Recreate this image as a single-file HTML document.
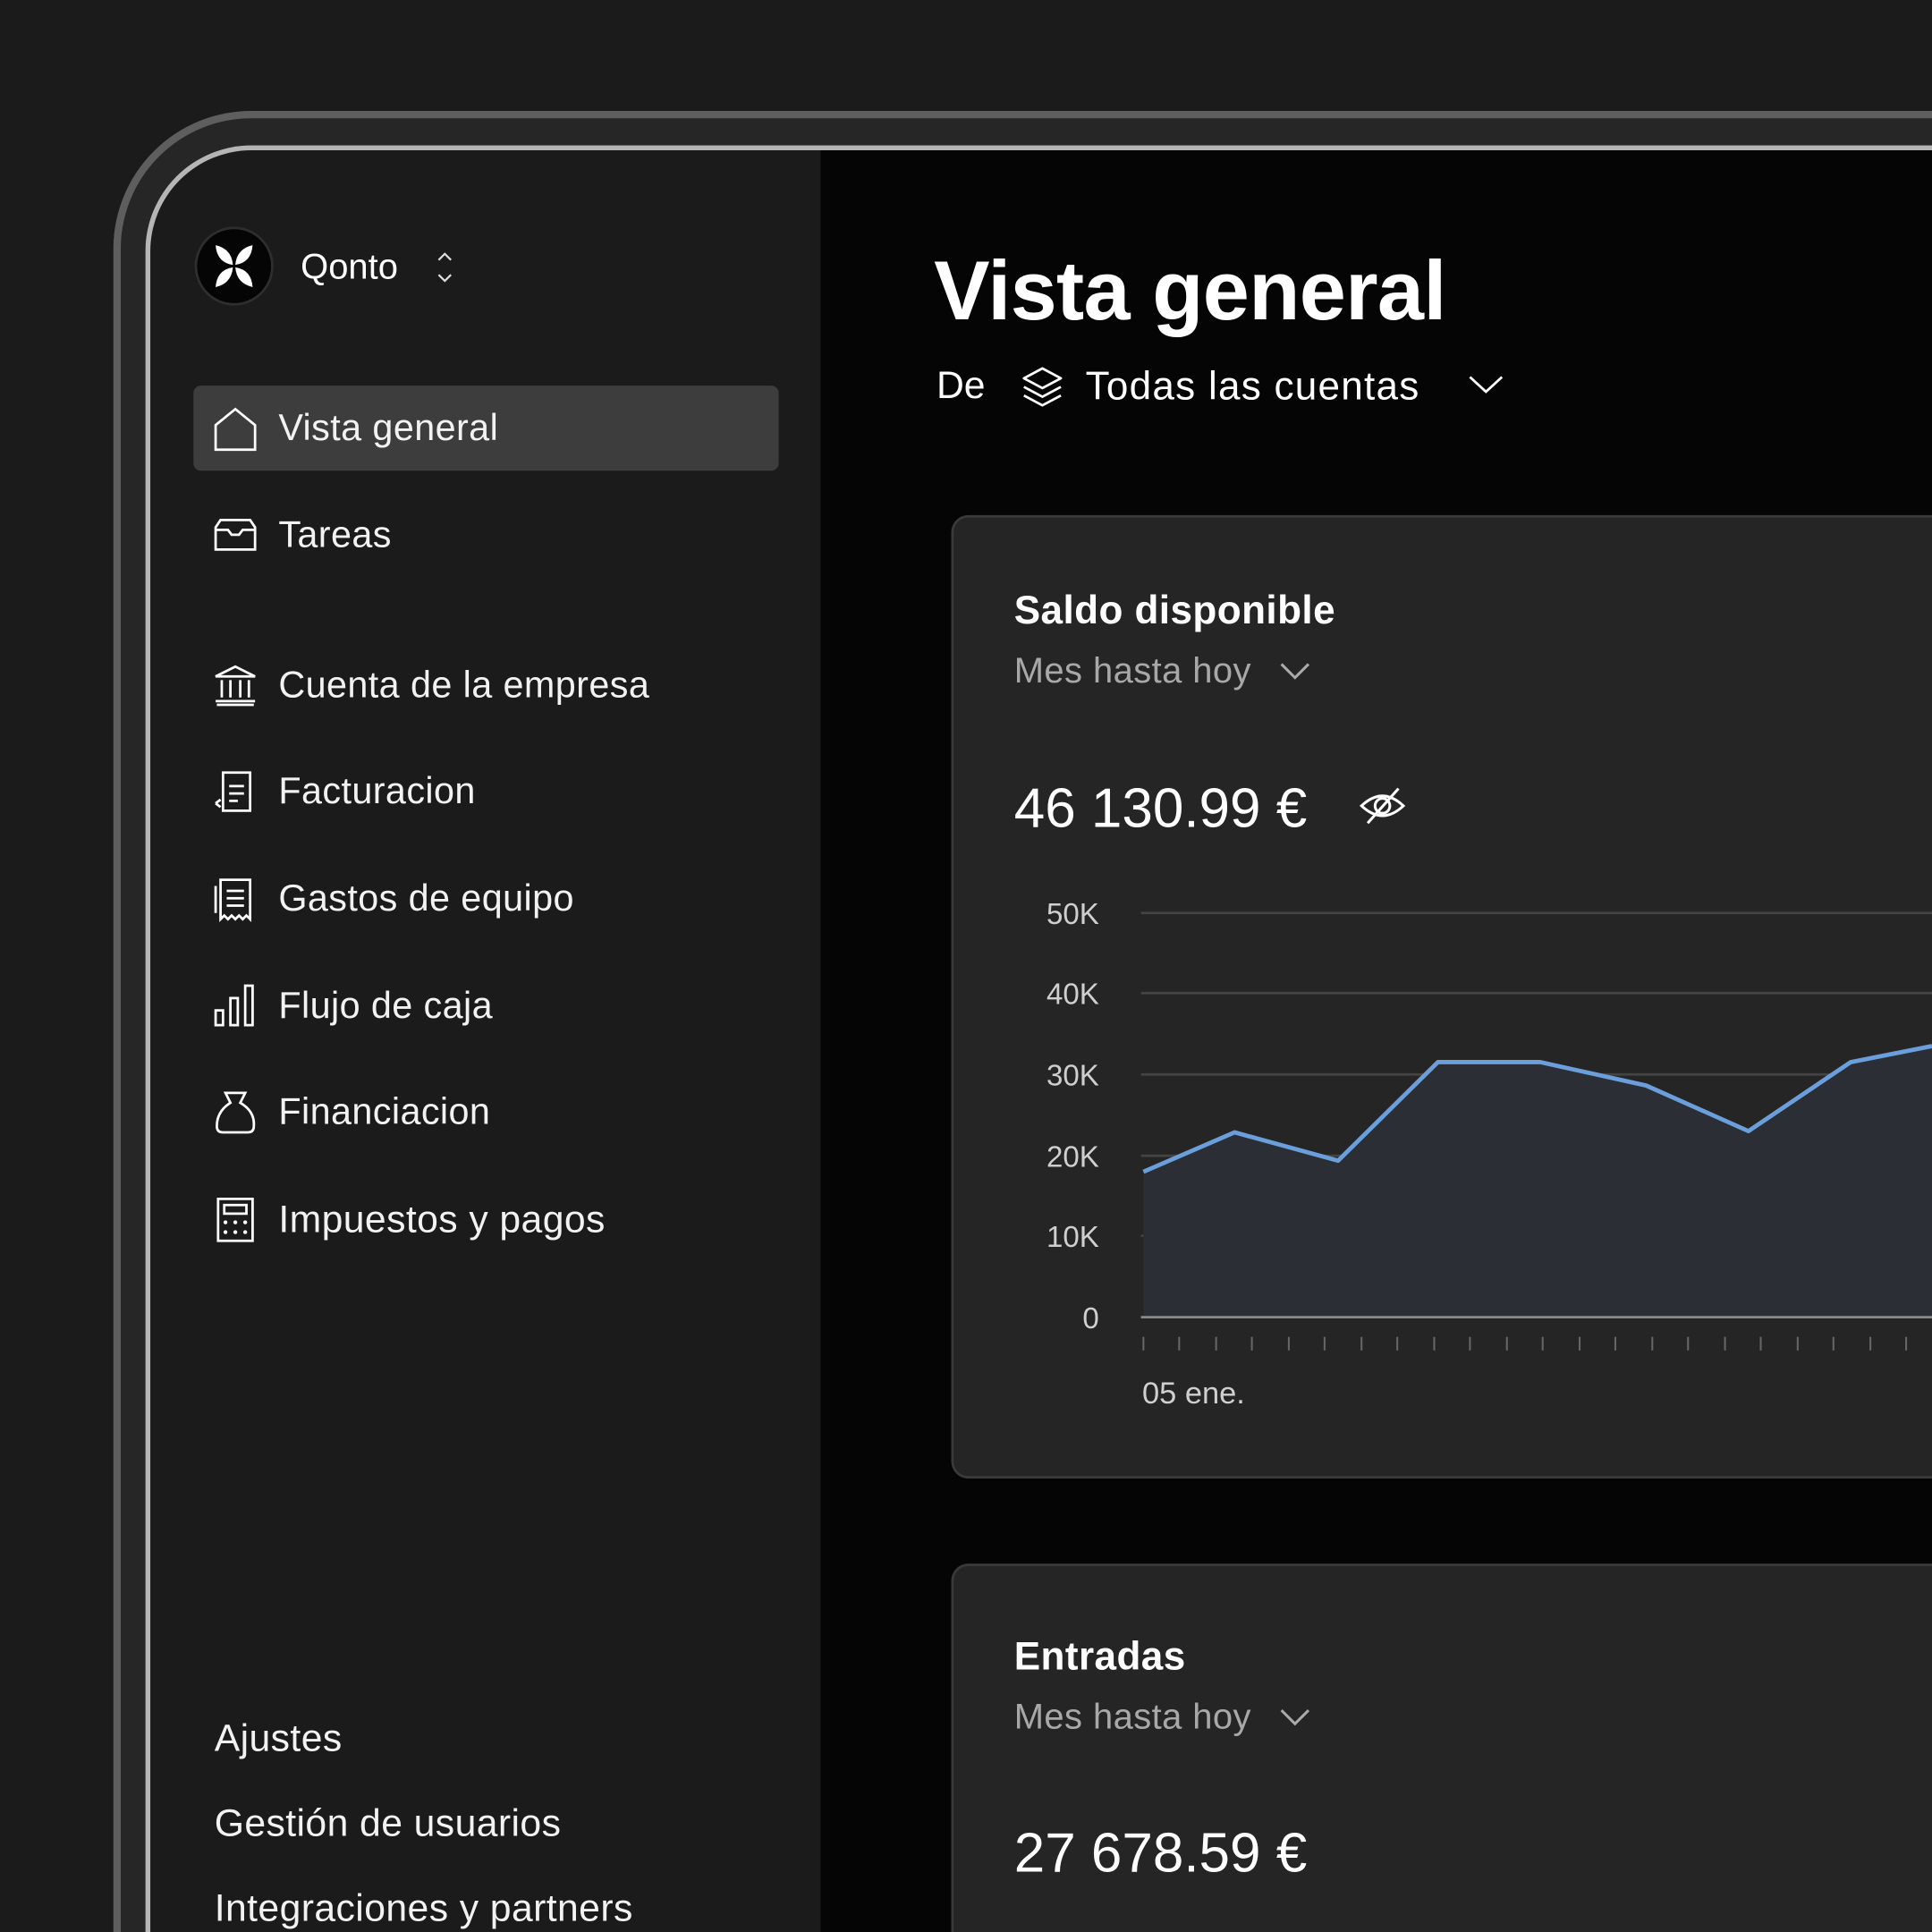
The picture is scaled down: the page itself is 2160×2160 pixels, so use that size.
<!DOCTYPE html>
<html><head><meta charset="utf-8"><style>
html,body{margin:0;padding:0;background:#1b1b1b;overflow:hidden;width:2160px;height:2160px}
#w{position:absolute;left:0;top:0;width:1568px;height:1568px;transform:scale(1.377551);transform-origin:0 0;font-family:"Liberation Sans",sans-serif;color:#fff;overflow:hidden}
.a{position:absolute}
.nav{position:absolute;left:226px;font-size:30px;color:#f2f2f2;letter-spacing:0.3px}
.ic{position:absolute;left:173px}
</style></head><body><div id="w">
<div class="a" style="left:92px;top:90px;width:2000px;height:2000px;border:6px solid #5e5e5e;border-radius:112px;background:#262626;box-sizing:border-box"></div>
<div class="a" style="left:118px;top:118px;width:1600px;height:1600px;border:4px solid #b5b5b5;border-right:none;border-bottom:none;border-radius:86px 0 0 0;background:#1b1b1b;box-sizing:border-box;overflow:hidden">
 <div class="a" style="left:544px;top:0;width:1100px;height:1600px;background:#050505"></div>
</div>
<div class="a" style="left:158px;top:184px;width:64px;height:64px;border-radius:50%;background:#050505;border:2px solid #2e2e2e;box-sizing:border-box"></div>
<svg class="a" style="left:170px;top:196px" width="40" height="40" viewBox="0 0 40 40"><g fill="#fff"><path d="M5 3 Q18 6 19 19 Q6 17 5 3Z"/><path d="M35 3 Q22 6 21 19 Q34 17 35 3Z"/><path d="M5 37 Q18 34 19 21 Q6 23 5 37Z"/><path d="M35 37 Q22 34 21 21 Q34 23 35 37Z"/></g></svg>
<div class="a" style="left:244px;top:201px;font-size:29px">Qonto</div>
<svg class="a" style="left:352px;top:202px" width="18" height="30"><path d="M4 9 L9 4 L14 9 M4 21 L9 26 L14 21" stroke="#ddd" stroke-width="1.6" fill="none"/></svg>
<div class="a" style="left:157px;top:313px;width:475px;height:69px;background:#3d3d3d;border-radius:6px"></div>
<svg class="ic" style="top:330px" width="38" height="38"><path d="M2 35 V15 L18 2 L34 15 V35 Z" stroke="#fff" stroke-width="2" fill="none"/></svg>
<div class="nav" style="top:331px">Vista general</div>
<svg class="ic" style="top:420px" width="38" height="30"><path d="M2 8 L6 2 H30 L34 8 V26 H2 Z M2 10 H12 L15 14 H21 L24 10 H34" stroke="#fff" stroke-width="2" fill="none"/></svg>
<div class="nav" style="top:418px">Tareas</div>
<svg class="ic" style="top:538px" width="38" height="38"><path d="M2 11 L18 3 L34 11 Z M3 34 H33 M2 31 H34 M7 14 V28 M14 14 V28 M22 14 V28 M29 14 V28" stroke="#fff" stroke-width="2" fill="none"/></svg>
<div class="nav" style="top:540px">Cuenta de la empresa</div>
<svg class="ic" style="top:624px" width="38" height="38"><path d="M8 3 H30 V34 H8 Z M13 14 H25 M13 20 H25 M13 26 H20 M2 28 L6 25 M2 28 L6 31" stroke="#fff" stroke-width="2" fill="none"/></svg>
<div class="nav" style="top:626px">Facturacion</div>
<svg class="ic" style="top:711px" width="38" height="38"><path d="M6 3 H30 V35 L27 32 L24 35 L21 32 L18 35 L15 32 L12 35 L9 32 L6 35 Z M11 12 H25 M11 18 H25 M11 24 H25 M2 8 V30" stroke="#fff" stroke-width="2" fill="none"/></svg>
<div class="nav" style="top:713px">Gastos de equipo</div>
<svg class="ic" style="top:798px" width="38" height="38"><path d="M2 22 H8 V34 H2 Z M14 12 H20 V34 H14 Z M26 2 H32 V34 H26 Z" stroke="#fff" stroke-width="2" fill="none"/></svg>
<div class="nav" style="top:800px">Flujo de caja</div>
<svg class="ic" style="top:884px" width="38" height="38"><path d="M10 3 H26 L22 11 Q34 18 33 30 Q33 35 28 35 H8 Q3 35 3 30 Q3 18 14 11 Z" stroke="#fff" stroke-width="2" fill="none"/></svg>
<div class="nav" style="top:886px">Financiacion</div>
<svg class="ic" style="top:971px" width="38" height="38"><path d="M4 2 H32 V36 H4 Z M9 7 H27 V14 H9 Z" stroke="#fff" stroke-width="2" fill="none"/><g fill="#fff"><circle cx="10" cy="21" r="1.6"/><circle cx="18" cy="21" r="1.6"/><circle cx="26" cy="21" r="1.6"/><circle cx="10" cy="29" r="1.6"/><circle cx="18" cy="29" r="1.6"/><circle cx="26" cy="29" r="1.6"/></g></svg>
<div class="nav" style="top:972px;font-size:31px">Impuestos y pagos</div>
<div class="nav" style="left:174px;top:1393px;font-size:31px">Ajustes</div>
<div class="nav" style="left:174px;top:1462px;font-size:31px">Gestión de usuarios</div>
<div class="nav" style="left:174px;top:1531px;font-size:31px">Integraciones y partners</div>
<div class="a" style="left:758px;top:197px;font-size:68px;font-weight:bold;letter-spacing:-0.5px">Vista general</div>
<div class="a" style="left:760px;top:295px;font-size:31px">De</div>
<svg class="a" style="left:828px;top:296px" width="36" height="36"><path d="M18 3 L33 11 L18 19 L3 11 Z M3 18 L18 26 L33 18 M3 25 L18 33 L33 25" stroke="#fff" stroke-width="2" fill="none" stroke-linejoin="round"/></svg>
<div class="a" style="left:881px;top:295px;font-size:32px;letter-spacing:0.9px">Todas las cuentas</div>
<svg class="a" style="left:1190px;top:302px" width="32" height="20"><path d="M3 4 L16 16 L29 4" stroke="#fff" stroke-width="2" fill="none"/></svg>
<div class="a" style="left:772px;top:418px;width:900px;height:782px;background:#252525;border:2px solid #3a3a3a;border-radius:14px;box-sizing:border-box"></div>
<div class="a" style="left:823px;top:477px;font-size:32px;font-weight:bold;letter-spacing:0.3px">Saldo disponible</div>
<div class="a" style="left:823px;top:529px;font-size:29px;color:#a8a8a8;letter-spacing:0.3px">Mes hasta hoy</div>
<svg class="a" style="left:1037px;top:536px" width="28" height="18"><path d="M3 3 L14 14 L25 3" stroke="#aaa" stroke-width="2.2" fill="none"/></svg>
<div class="a" style="left:823px;top:630px;font-size:45px">46 130.99 €</div>
<svg class="a" style="left:1102px;top:636px" width="40" height="36"><path d="M3 18 Q20 2 37 18 Q20 34 3 18Z" stroke="#fff" stroke-width="2.2" fill="none"/><circle cx="20" cy="18" r="6" stroke="#fff" stroke-width="2.2" fill="none"/><path d="M8 32 L33 4" stroke="#fff" stroke-width="2.2"/></svg>
<svg class="a" style="left:0;top:0" width="1568" height="1568">
<g font-family="Liberation Sans,sans-serif" font-size="24" fill="#cfcfcf" text-anchor="end">
<text x="892" y="750">50K</text><text x="892" y="815">40K</text><text x="892" y="881">30K</text><text x="892" y="947">20K</text><text x="892" y="1012">10K</text><text x="892" y="1078">0</text></g>
<g stroke="#444" stroke-width="2"><line x1="926" y1="741" x2="1568" y2="741"/><line x1="926" y1="806" x2="1568" y2="806"/><line x1="926" y1="872" x2="1568" y2="872"/><line x1="926" y1="938" x2="1568" y2="938"/><line x1="926" y1="1003" x2="1568" y2="1003"/></g>
<path d="M928 951 L1002 919 L1086 942 L1167 862 L1250 862 L1336 881 L1419 918 L1502 862 L1568 849 V1069 H928Z" fill="#2b2e34"/>
<line x1="926" y1="1069" x2="1568" y2="1069" stroke="#888" stroke-width="2"/>
<path d="M928 951 L1002 919 L1086 942 L1167 862 L1250 862 L1336 881 L1419 918 L1502 862 L1568 849" stroke="#6a9fdc" stroke-width="3.5" fill="none" stroke-linejoin="round"/>
<g stroke="#666" stroke-width="1.5">
<line x1="928" y1="1085" x2="928" y2="1096"/><line x1="957" y1="1085" x2="957" y2="1096"/><line x1="987" y1="1085" x2="987" y2="1096"/><line x1="1016" y1="1085" x2="1016" y2="1096"/><line x1="1046" y1="1085" x2="1046" y2="1096"/><line x1="1075" y1="1085" x2="1075" y2="1096"/><line x1="1105" y1="1085" x2="1105" y2="1096"/><line x1="1134" y1="1085" x2="1134" y2="1096"/><line x1="1164" y1="1085" x2="1164" y2="1096"/><line x1="1193" y1="1085" x2="1193" y2="1096"/><line x1="1223" y1="1085" x2="1223" y2="1096"/><line x1="1252" y1="1085" x2="1252" y2="1096"/><line x1="1282" y1="1085" x2="1282" y2="1096"/><line x1="1311" y1="1085" x2="1311" y2="1096"/><line x1="1341" y1="1085" x2="1341" y2="1096"/><line x1="1370" y1="1085" x2="1370" y2="1096"/><line x1="1400" y1="1085" x2="1400" y2="1096"/><line x1="1429" y1="1085" x2="1429" y2="1096"/><line x1="1459" y1="1085" x2="1459" y2="1096"/><line x1="1488" y1="1085" x2="1488" y2="1096"/><line x1="1518" y1="1085" x2="1518" y2="1096"/><line x1="1547" y1="1085" x2="1547" y2="1096"/></g>
<text x="927" y="1139" font-family="Liberation Sans,sans-serif" font-size="25" fill="#cfcfcf">05 ene.</text>
</svg>
<div class="a" style="left:772px;top:1269px;width:900px;height:400px;background:#252525;border:2px solid #3a3a3a;border-radius:14px;box-sizing:border-box"></div>
<div class="a" style="left:823px;top:1326px;font-size:32px;font-weight:bold;letter-spacing:0.3px">Entradas</div>
<div class="a" style="left:823px;top:1378px;font-size:29px;color:#a8a8a8;letter-spacing:0.3px">Mes hasta hoy</div>
<svg class="a" style="left:1037px;top:1385px" width="28" height="18"><path d="M3 3 L14 14 L25 3" stroke="#aaa" stroke-width="2.2" fill="none"/></svg>
<div class="a" style="left:823px;top:1478px;font-size:45px">27 678.59 €</div>
</div></body></html>
